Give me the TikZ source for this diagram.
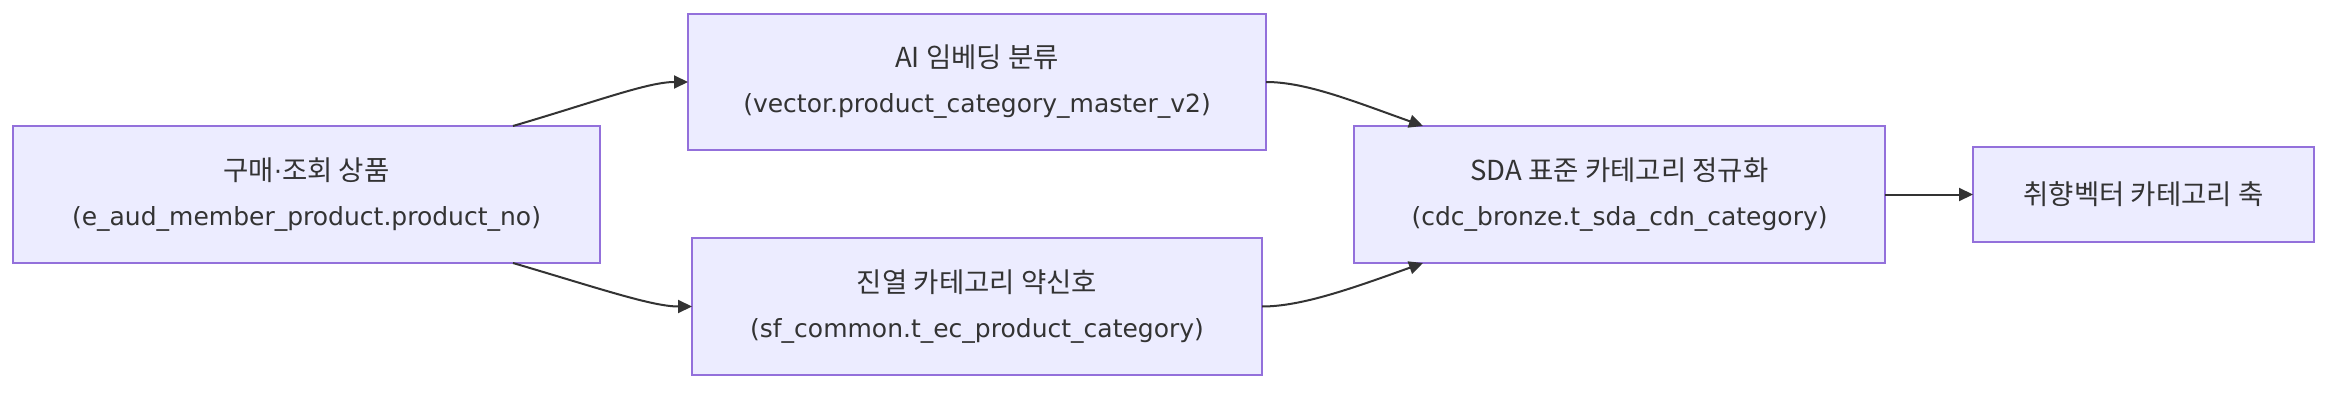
\documentclass[tikz,border=0pt]{standalone}
\usepackage{fontspec}
\setmainfont{DejaVu Sans}
\newfontfamily\kr[Scale=1.1]{Noto Sans CJK KR}
\usetikzlibrary{arrows.meta}
\definecolor{boxfill}{HTML}{ECECFF}
\definecolor{boxline}{HTML}{9370DB}
\definecolor{ink}{HTML}{333333}
\tikzset{
  box/.style={draw=boxline, fill=boxfill, line width=2pt, inner sep=0pt, outer sep=0pt,
    align=center, text=ink, font=\fontsize{25}{45}\selectfont},
  flow/.style={draw=ink, line width=2pt, -{Triangle[length=14pt,width=13pt]}},
}
\begin{document}
\begin{tikzpicture}[x=1pt,y=-1pt]
\useasboundingbox[fill=white] (0,0) rectangle (2335,396);
\node[box, minimum width=587pt, minimum height=137pt] (A) at (306.5,194.5)
  {{\kr 구매}·{\kr 조회 상품}\\(e\_aud\_member\_product.product\_no)};
\node[box, minimum width=578pt, minimum height=136pt] (B) at (977,82)
  {{\kr AI 임베딩 분류}\\(vector.product\_category\_master\_v2)};
\node[box, minimum width=570pt, minimum height=137pt] (C) at (977,306.5)
  {{\kr 진열 카테고리 약신호}\\(sf\_common.t\_ec\_product\_category)};
\node[box, minimum width=531pt, minimum height=137pt] (D) at (1619.5,194.5)
  {{\kr SDA 표준 카테고리 정규화}\\(cdc\_bronze.t\_sda\_cdn\_category)};
\node[box, minimum width=341pt, minimum height=95pt] (E) at (2143.5,194.5)
  {{\kr 취향벡터 카테고리 축}};
\draw[flow] ([xshift=-87pt]A.north east) .. controls +(85,-25) and +(-40,0) .. (B.west);
\draw[flow] ([xshift=-87pt]A.south east) .. controls +(85,25) and +(-40,0) .. (C.west);
\draw[flow] (B.east) .. controls +(40,0) and +(-70,-25) .. ([xshift=69pt]D.north west);
\draw[flow] (C.east) .. controls +(40,0) and +(-70,25) .. ([xshift=69pt]D.south west);
\draw[flow] (D.east) -- (E.west);
\end{tikzpicture}
\end{document}
